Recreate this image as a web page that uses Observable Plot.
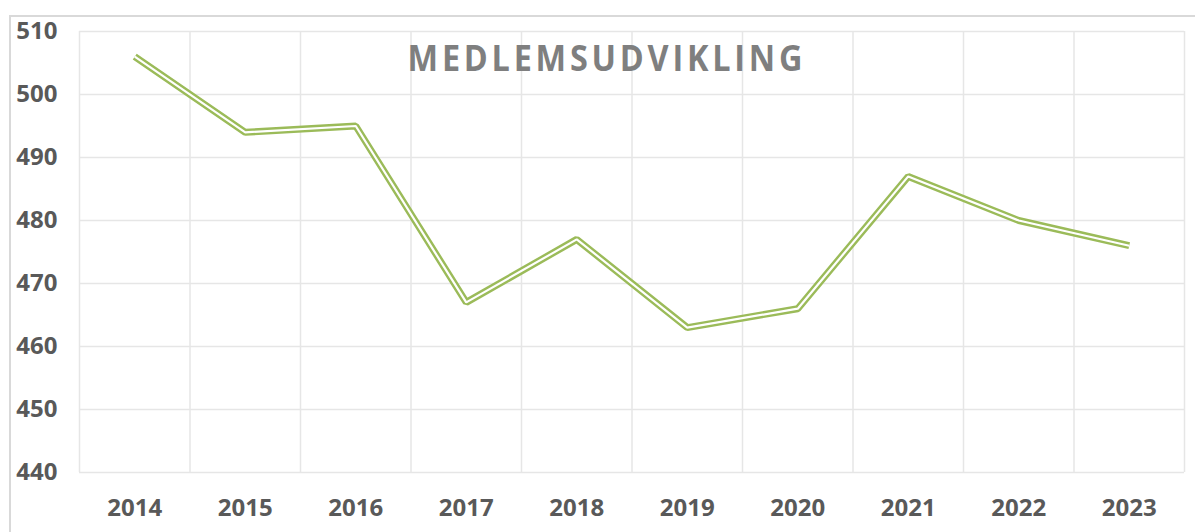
<!DOCTYPE html>
<html>
<head>
<meta charset="utf-8">
<script src="https://cdn.jsdelivr.net/npm/d3@7"></script>
<script src="https://cdn.jsdelivr.net/npm/@observablehq/plot@0.6"></script>
<style>
  html, body { margin: 0; padding: 0; background: #fff; }
  #wrap { position: relative; width: 1195px; height: 532px; overflow: hidden; }
  #border { position: absolute; left: 9px; top: 15px; width: 1200px; height: 600px;
            border-left: 2px solid #d9d9d9; border-top: 2px solid #d9d9d9; }
  #chart { position: absolute; left: 0; top: 0; }
  #title { position: absolute; left: 0; width: 1214px; top: 33px; text-align: center;
           font-family: "Open Sans", sans-serif; font-weight: 700; font-size: 36px;
           line-height: normal; letter-spacing: 4.2px; color: #7f7f7f;
           transform: scaleX(0.9); transform-origin: 606px 0; white-space: nowrap; }
</style>
</head>
<body>
<div id="wrap">
  <div id="border"></div>
  <div id="chart"></div>
  <div id="title">MEDLEMSUDVIKLING</div>
</div>
<script>
const years = [2014, 2015, 2016, 2017, 2018, 2019, 2020, 2021, 2022, 2023];
const members = [506, 494, 495, 467, 477, 463, 466, 487, 480, 476];
const yTicks = [440, 450, 460, 470, 480, 490, 500, 510];

const data = years.map((y, i) => ({year: y, value: members[i]}));
const bounds = years.map(y => y - 0.5).concat([years[years.length - 1] + 0.5]);

const plot = Plot.plot({
  width: 1195,
  height: 532,
  marginLeft: 79,
  marginRight: 11,
  marginTop: 31,
  marginBottom: 60,
  style: {fontFamily: "'Open Sans', sans-serif", fontSize: "24px", fontWeight: 700, color: "#595959", background: "transparent"},
  x: {type: "linear", domain: [bounds[0], bounds[bounds.length - 1]]},
  y: {domain: [440, 510]},
  marks: [
    Plot.ruleY(yTicks, {stroke: "#e6e6e6", strokeWidth: 1.5}),
    Plot.ruleX(bounds, {stroke: "#e6e6e6", strokeWidth: 1.5}),
    Plot.axisY(yTicks, {tickSize: 0, tickPadding: 22, label: null, fill: "#595959", fontSize: 24, fontWeight: 700}),
    Plot.axisX(years, {tickSize: 0, tickPadding: 26, tickFormat: "d", label: null, fill: "#595959", fontSize: 24, fontWeight: 700}),
    Plot.line(data, {x: "year", y: "value", stroke: "#9bbb59", strokeWidth: 7, strokeLinejoin: "miter", strokeLinecap: "butt"}),
    Plot.line(data, {x: "year", y: "value", stroke: "#ffffff", strokeWidth: 2.2, strokeLinejoin: "miter", strokeLinecap: "butt"})
  ]
});
document.getElementById("chart").appendChild(plot);
</script>
</body>
</html>
